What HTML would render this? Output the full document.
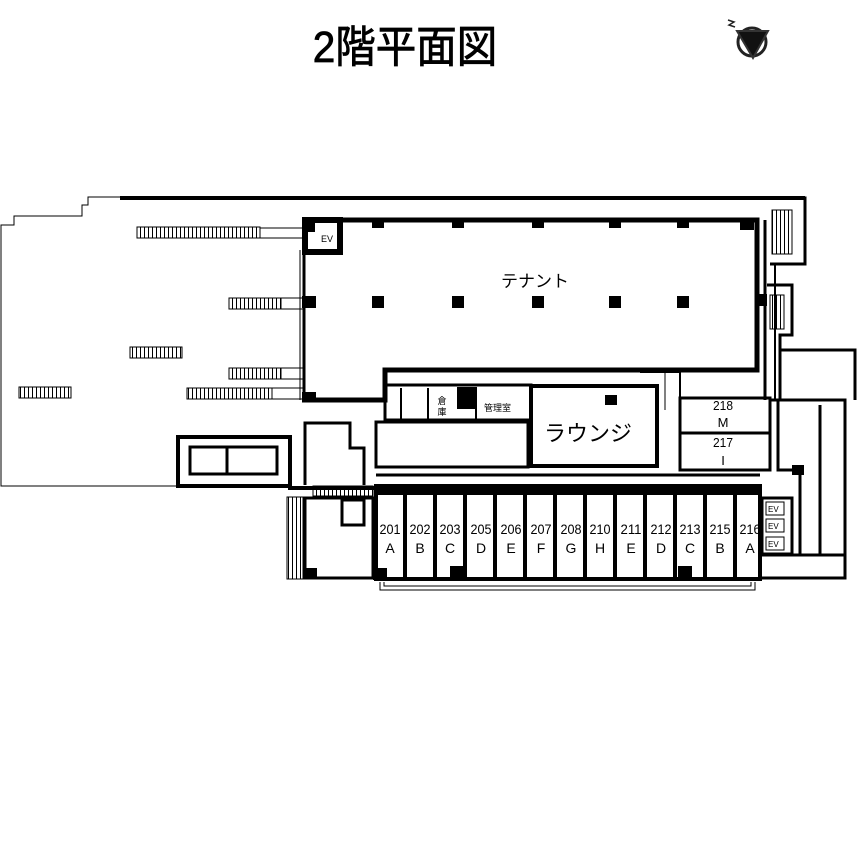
<!DOCTYPE html>
<html><head><meta charset="utf-8"><style>
html,body{margin:0;padding:0;background:#fff}
svg{display:block}
text{font-family:"Liberation Sans","Noto Sans CJK JP",sans-serif;fill:#000}
</style></head><body>
<svg width="860" height="860" viewBox="0 0 860 860" xmlns="http://www.w3.org/2000/svg">
<defs>
<pattern id="h" width="4" height="20" patternUnits="userSpaceOnUse"><line x1="0.5" y1="0" x2="0.5" y2="20" stroke="#000" stroke-width="1"/></pattern>
</defs>
<text x="405" y="62" font-size="44" text-anchor="middle" stroke="#000" stroke-width="0.8" transform="translate(405 0) scale(0.92 1) translate(-405 0)">2階平面図</text>
<!-- compass -->
<circle cx="752" cy="42" r="14" fill="none" stroke="#222" stroke-width="3"/>
<polygon points="737,31 768,31 753,58" fill="#111" stroke="#333" stroke-width="2"/>
<path d="M728,20 L734,22 L729,25 L735,27" fill="none" stroke="#222" stroke-width="1.5"/>

<g fill="none" stroke="#000">
<polyline stroke-width="1" points="178,486 1,486 1,225 14,225 14,216 82,216 82,205 88,205 88,197 120,197"/>
<line x1="120" y1="198" x2="805" y2="198" stroke-width="4"/>
<!-- tenant -->
<polyline stroke-width="5" points="302,220 757,220 757,370 385,370 385,400 302,400"/>
<line x1="304" y1="250" x2="304" y2="400" stroke-width="3"/>
<line x1="300" y1="250" x2="300" y2="400" stroke-width="1"/>
<rect x="305" y="220" width="35" height="32" stroke-width="6"/>
<!-- right stairs -->
<polyline stroke-width="3" points="765,198 805,198 805,264 770,264"/>
<polyline stroke-width="3" points="767,285 792,285 792,335 780,335 780,350"/>
<line x1="765" y1="220" x2="765" y2="400" stroke-width="3"/>
<line x1="775" y1="264" x2="775" y2="400" stroke-width="2"/>
<rect x="772" y="210" width="20" height="44" fill="url(#h)" stroke-width="1"/>
<rect x="770" y="295" width="14" height="34" fill="url(#h)" stroke-width="1"/>
<!-- right rooms -->
<polyline stroke-width="3" points="780,400 780,350 855,350 855,400"/>
<polyline stroke-width="3" points="770,400 845,400 845,555 820,555 820,405"/>
<polyline stroke-width="3" points="760,555 845,555 845,578 760,578"/>
<polyline stroke-width="3" points="778,400 778,470 800,470 800,555"/>
<rect x="680" y="398" width="90" height="72" stroke-width="3"/>
<line x1="680" y1="433" x2="770" y2="433" stroke-width="3"/>
<polyline stroke-width="2" points="640,372 680,372 680,398"/>
<line x1="665" y1="372" x2="665" y2="410" stroke-width="1"/>
<!-- lounge -->
<rect x="531" y="386" width="126" height="80" stroke-width="4"/>
<!-- storage -->
<rect x="385" y="385" width="146" height="35" stroke-width="3"/>
<rect x="376" y="422" width="152" height="45" stroke-width="3"/>
<line x1="401" y1="388" x2="401" y2="420" stroke-width="2"/>
<line x1="428" y1="388" x2="428" y2="420" stroke-width="2"/>
<line x1="476" y1="388" x2="476" y2="420" stroke-width="2"/>
<line x1="376" y1="475" x2="760" y2="475" stroke-width="3"/>
<!-- left rooms -->
<polyline stroke-width="3" points="305,485 305,423 350,423 350,448 364,448 364,485"/>
<polyline stroke-width="4" points="290,486 290,488 375,488"/>
<rect x="305" y="498" width="68" height="80" stroke-width="3"/>
<rect x="342" y="500" width="22" height="25" stroke-width="3"/>
<rect x="178" y="437" width="112" height="49" stroke-width="4"/>
<rect x="190" y="447" width="87" height="27" stroke-width="3"/>
<line x1="227" y1="447" x2="227" y2="474" stroke-width="3"/>
<!-- units -->
<rect x="376" y="486" width="384" height="93" stroke-width="4"/>
<polyline stroke-width="1" points="380,582 380,590 755,590 755,582"/>
<polyline stroke-width="1" points="384,582 384,586 751,586 751,582"/>
<rect x="762" y="498" width="30" height="56" stroke-width="3"/>
<rect x="766" y="502" width="18" height="13" stroke-width="1"/>
<rect x="766" y="519" width="18" height="13" stroke-width="1"/>
<rect x="766" y="537" width="18" height="13" stroke-width="1"/>
</g>
<g fill="#000">
<rect x="403" y="492" width="4" height="88"/><rect x="433" y="492" width="4" height="88"/>
<rect x="463" y="492" width="4" height="88"/><rect x="493" y="492" width="4" height="88"/>
<rect x="523" y="492" width="4" height="88"/><rect x="553" y="492" width="4" height="88"/>
<rect x="583" y="492" width="4" height="88"/><rect x="613" y="492" width="4" height="88"/>
<rect x="643" y="492" width="4" height="88"/><rect x="673" y="492" width="4" height="88"/>
<rect x="703" y="492" width="4" height="88"/><rect x="733" y="492" width="4" height="88"/>
<rect x="376" y="488" width="384" height="7"/>
<rect x="372" y="218" width="12" height="10"/><rect x="452" y="218" width="12" height="10"/>
<rect x="532" y="218" width="12" height="10"/><rect x="609" y="218" width="12" height="10"/>
<rect x="677" y="218" width="12" height="10"/><rect x="740" y="218" width="14" height="12"/>
<rect x="372" y="296" width="12" height="12"/><rect x="452" y="296" width="12" height="12"/>
<rect x="532" y="296" width="12" height="12"/><rect x="609" y="296" width="12" height="12"/>
<rect x="677" y="296" width="12" height="12"/><rect x="302" y="296" width="14" height="12"/>
<rect x="302" y="392" width="14" height="10"/><rect x="757" y="294" width="10" height="12"/>
<rect x="457" y="387" width="20" height="22"/><rect x="605" y="395" width="12" height="10"/>
<rect x="303" y="218" width="12" height="14"/><rect x="792" y="465" width="12" height="10"/>
<rect x="373" y="568" width="14" height="12"/><rect x="305" y="568" width="12" height="10"/>
<rect x="450" y="566" width="14" height="12"/><rect x="678" y="566" width="14" height="12"/>
</g>
<!-- parking stalls -->
<g stroke="#000" stroke-width="1">
<rect x="137" y="227" width="123" height="11" fill="url(#h)"/>
<rect x="229" y="298" width="52" height="11" fill="url(#h)"/>
<rect x="130" y="347" width="52" height="11" fill="url(#h)"/>
<rect x="229" y="368" width="52" height="11" fill="url(#h)"/>
<rect x="19" y="387" width="52" height="11" fill="url(#h)"/>
<rect x="187" y="388" width="85" height="11" fill="url(#h)"/>
<line x1="260" y1="228" x2="305" y2="228"/><line x1="260" y1="238" x2="305" y2="238"/>
<line x1="281" y1="298" x2="303" y2="298"/><line x1="281" y1="309" x2="303" y2="309"/>
<line x1="281" y1="368" x2="303" y2="368"/><line x1="281" y1="379" x2="303" y2="379"/>
<line x1="272" y1="388" x2="303" y2="388"/><line x1="272" y1="399" x2="303" y2="399"/>
<rect x="287" y="497" width="16" height="82" fill="url(#h)"/>
<rect x="313" y="486" width="60" height="10" fill="url(#h)"/>
</g>
<text x="321" y="242" font-size="9">EV</text>
<text x="535" y="287" font-size="17" text-anchor="middle">テナント</text>
<text x="588" y="441" font-size="22" text-anchor="middle">ラウンジ</text>
<text x="442" y="404" font-size="9" text-anchor="middle">倉</text>
<text x="442" y="415" font-size="9" text-anchor="middle">庫</text>
<text x="484" y="411" font-size="9">管理室</text>
<g font-size="13" text-anchor="middle">
<text x="723" y="410" textLength="20" lengthAdjust="spacingAndGlyphs">218</text>
<text x="723" y="427">M</text>
<text x="723" y="447" textLength="20" lengthAdjust="spacingAndGlyphs">217</text>
<text x="723" y="465">I</text>
</g>
<g font-size="14" text-anchor="middle">
<text x="390" y="534" textLength="21" lengthAdjust="spacingAndGlyphs">201</text><text x="390" y="553">A</text>
<text x="420" y="534" textLength="21" lengthAdjust="spacingAndGlyphs">202</text><text x="420" y="553">B</text>
<text x="450" y="534" textLength="21" lengthAdjust="spacingAndGlyphs">203</text><text x="450" y="553">C</text>
<text x="481" y="534" textLength="21" lengthAdjust="spacingAndGlyphs">205</text><text x="481" y="553">D</text>
<text x="511" y="534" textLength="21" lengthAdjust="spacingAndGlyphs">206</text><text x="511" y="553">E</text>
<text x="541" y="534" textLength="21" lengthAdjust="spacingAndGlyphs">207</text><text x="541" y="553">F</text>
<text x="571" y="534" textLength="21" lengthAdjust="spacingAndGlyphs">208</text><text x="571" y="553">G</text>
<text x="600" y="534" textLength="21" lengthAdjust="spacingAndGlyphs">210</text><text x="600" y="553">H</text>
<text x="631" y="534" textLength="21" lengthAdjust="spacingAndGlyphs">211</text><text x="631" y="553">E</text>
<text x="661" y="534" textLength="21" lengthAdjust="spacingAndGlyphs">212</text><text x="661" y="553">D</text>
<text x="690" y="534" textLength="21" lengthAdjust="spacingAndGlyphs">213</text><text x="690" y="553">C</text>
<text x="720" y="534" textLength="21" lengthAdjust="spacingAndGlyphs">215</text><text x="720" y="553">B</text>
<text x="750" y="534" textLength="21" lengthAdjust="spacingAndGlyphs">216</text><text x="750" y="553">A</text>
</g>
<g font-size="8"><text x="768" y="512">EV</text><text x="768" y="529">EV</text><text x="768" y="547">EV</text></g>
</svg>
</body></html>
